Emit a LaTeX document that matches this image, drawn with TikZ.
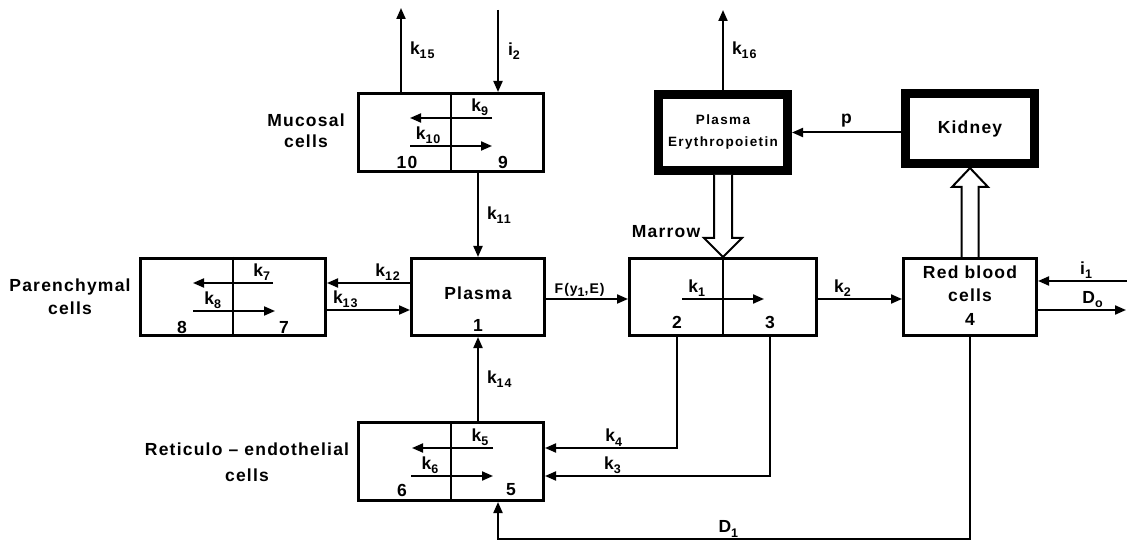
\documentclass[tikz,border=0pt]{standalone}
\usepackage{fontspec}
\setmainfont{Liberation Sans}
\newfontfamily\diagfont{Liberation Sans}[LetterSpace=7]
\newfontfamily\pefont{Liberation Sans}[LetterSpace=10]
\usetikzlibrary{positioning, arrows.meta, calc}

\newcommand{\lsub}[1]{\raisebox{-0.45ex}{\fontsize{12.5}{12.5}\selectfont #1}}

\begin{document}
\begin{tikzpicture}[
    x=1pt, y=-1pt,
    font=\diagfont\bfseries\fontsize{17.5}{21}\selectfont,
    % Compartment boxes
    box/.style={draw, line width=3pt, inner sep=0pt, minimum width=185pt, minimum height=78pt},
    narrowbox/.style={box, minimum width=133pt, minimum height=77pt},
    heavybox/.style={draw, line width=9pt, inner sep=0pt, minimum width=129pt, minimum height=70pt, align=center},
    divider/.style={line width=2pt},
    % Connectors
    arrow/.style={-{Triangle[length=11pt, width=9pt]}, line width=2pt},
    hollow/.style={draw, fill=white, line width=2pt, line join=miter},
    klabel/.style={inner sep=1pt},
    num/.style={inner sep=0pt},
]
\useasboundingbox (0,0) rectangle (1127,545);

% ============================================================
% BOXES
% ============================================================

% --- Top row ---
\node[box] (muc) at (451,132.5) {};
\node[heavybox, minimum height=76pt, font=\pefont\bfseries\fontsize{13.5}{22}\selectfont] (pe) at (723,132.5) {Plasma\\Erythropoietin};
\node[heavybox] (kid) at (970,128.5) {Kidney};

% --- Middle row ---
\node[box, minimum height=77pt] (par) at (233,297) {};
\node[narrowbox] (pla) at (478,297) {};
\node[box, minimum width=187pt, minimum height=77pt] (mar) at (723,297) {};
\node[narrowbox] (rbc) at (970,297) {};

% --- Bottom row ---
\node[box] (re) at (451,461.5) {};

% compartment dividers
\draw[divider] (muc.north) -- (muc.south);
\draw[divider] (par.north) -- (par.south);
\draw[divider] (mar.north) -- (mar.south);
\draw[divider] (re.north) -- (re.south);

% ============================================================
% TEXTS
% ============================================================
\node[align=center] (muclabel) at (306,130.5) {Mucosal\\cells};
\node[align=center] (parlabel) at (70,297) {Parenchymal\\[2pt]cells};
\node[align=center] (relabel) at (247,462) {Reticulo – endothelial\\[5pt]cells};
\node (marlabel) at (666,232) {Marrow};
\node (planame) at ($(pla)+(0,-4)$) {Plasma};
\node[align=center] (rbcname) at ($(rbc)+(0,-13.5)$) {Red blood\\[2pt]cells};

% compartment numbers
\node[num] (n1) at ($(pla)+(0,28)$) {1};
\node[num] (n2) at ($(mar)+(-46,25)$) {2};
\node[num] (n3) at ($(mar)+(47,25)$) {3};
\node[num] (n4) at ($(rbc)+(0,22)$) {4};
\node[num] (n5) at ($(re)+(60,28.5)$) {5};
\node[num] (n6) at ($(re)+(-49,28.5)$) {6};
\node[num] (n7) at ($(par)+(51,30)$) {7};
\node[num] (n8) at ($(par)+(-51,30)$) {8};
\node[num] (n9) at ($(muc)+(52,29.5)$) {9};
\node[num] (n10) at ($(muc)+(-44,29.5)$) {10};

% ============================================================
% INNER ARROWS (between two compartments of one box)
% ============================================================
\draw[arrow] ($(muc)+(41,-14.5)$) -- ($(muc)+(-41,-14.5)$) node[klabel, pos=0.15, above] {k\lsub{9}};
\draw[arrow] ($(muc)+(-41,13.5)$) -- ($(muc)+(41,13.5)$) node[klabel, pos=0.22, above] {k\lsub{10}};
\draw[arrow] ($(par)+(40,-14)$) -- ($(par)+(-40,-14)$) node[klabel, pos=0.14, above] {k\lsub{7}};
\draw[arrow] ($(par)+(-40,14)$) -- ($(par)+(42,14)$) node[klabel, pos=0.24, above] {k\lsub{8}};
\draw[arrow] ($(re)+(42,-13.5)$) -- ($(re)+(-39,-13.5)$) node[klabel, pos=0.16, above] {k\lsub{5}};
\draw[arrow] ($(re)+(-40,14.5)$) -- ($(re)+(42,14.5)$) node[klabel, pos=0.23, above] {k\lsub{6}};
\draw[arrow] ($(mar)+(-41,2)$) -- ($(mar)+(41,2)$) node[klabel, pos=0.18, above] {k\lsub{1}};

% ============================================================
% MAIN ARROWS
% ============================================================
\coordinate (k15out) at (401,8);
\coordinate (i2in) at (498,10);
\coordinate (k16out) at (723,10);
\coordinate (i1in) at (1127,281);
\coordinate (doout) at (1126,310);
\coordinate (d1in) at ($(re.south)+(47,0)$);

% in and out of the mucosal cells
\draw[arrow] ($(muc.north)+(-50,0)$) -- (k15out) node[klabel, midway, right=7pt] {k\lsub{15}};
\draw[arrow] (i2in) -- (i2in |- muc.north) node[klabel, midway, right=8pt] {i\lsub{2}};
\draw[arrow] (pla.north |- muc.south) -- (pla.north) node[klabel, midway, right=7pt] {k\lsub{11}};

% plasma <-> parenchymal, reticulo-endothelial
\draw[arrow] ($(pla.west)+(0,-14)$) -- ($(par.east)+(0,-14)$) node[klabel, pos=0.27, above] {k\lsub{12}};
\draw[arrow] ($(par.east)+(0,13)$) -- ($(pla.west)+(0,13)$) node[klabel, pos=0.22, above] {k\lsub{13}};
\draw[arrow] (pla.south |- re.north) -- (pla.south) node[klabel, midway, right=7pt] {k\lsub{14}};

% plasma -> marrow -> red blood cells
\draw[arrow] ($(pla.east)+(0,2)$) -- ($(mar.west)+(0,2)$) node[klabel, pos=0.41, above, font=\diagfont\bfseries\fontsize{14}{16}\selectfont] {F(y\lsub{1},E)};
\draw[arrow] ($(mar.east)+(0,2)$) -- ($(rbc.west)+(0,2)$) node[klabel, pos=0.29, above] {k\lsub{2}};

% red blood cells in and out
\draw[arrow] (i1in) -- (rbc.east |- i1in) node[klabel, pos=0.46, above] {i\lsub{1}};
\draw[arrow] ($(rbc.east)+(0,13)$) -- (doout) node[klabel, pos=0.62, above] {D\lsub{o}};

% kidney -> erythropoietin
\draw[arrow] (kid.west |- pe.east) -- (pe.east) node[klabel, midway, above=3pt] {p};
\draw[arrow] (pe.north) -- (k16out) node[klabel, midway, right=7pt] {k\lsub{16}};

% marrow and red cells -> reticulo-endothelial
\draw[arrow] (n2 |- mar.south) |- ($(re.east)+(0,-13.5)$) node[klabel, pos=0.74, above] {k\lsub{4}};
\draw[arrow] (n3 |- mar.south) |- ($(re.east)+(0,14.5)$) node[klabel, pos=0.85, above] {k\lsub{3}};
\draw[arrow] (rbc.south) -- ++(0,202) -| (d1in) node[klabel, pos=0.256, above] {D\lsub{1}};

% ============================================================
% HOLLOW ARROWS
% ============================================================
\draw[hollow] ($(pe.south)+(-9,0)$) -- ($(mar.north)+(-9,-19)$) -- ($(mar.north)+(-19,-19)$) -- (mar.north)
    -- ($(mar.north)+(19,-19)$) -- ($(mar.north)+(9,-19)$) -- ($(pe.south)+(9,0)$);
\draw[hollow] ($(rbc.north)+(-8.5,0)$) -- ($(kid.south)+(-8.5,19)$) -- ($(kid.south)+(-18,19)$) -- (kid.south)
    -- ($(kid.south)+(18,19)$) -- ($(kid.south)+(8.5,19)$) -- ($(rbc.north)+(8.5,0)$);

\end{tikzpicture}
\end{document}
